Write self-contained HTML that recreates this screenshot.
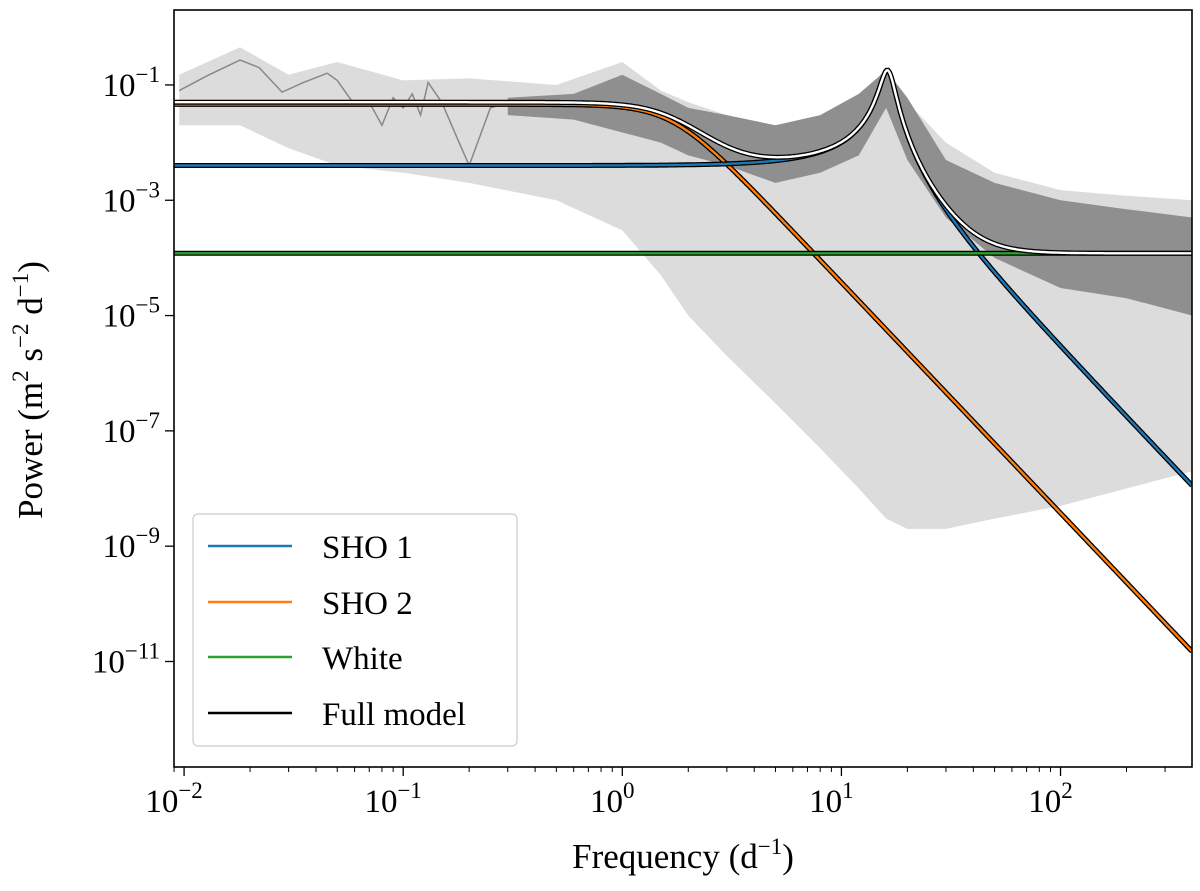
<!DOCTYPE html>
<html><head><meta charset="utf-8"><style>
body{margin:0;background:#fff}
svg text{font-family:"Liberation Serif",serif;fill:#000}
</style></head><body>
<svg id="c" width="1200" height="886" viewBox="0 0 1200 886" xmlns="http://www.w3.org/2000/svg"></svg>
<script>
// ---- data ----
const sho1 = {S0:0.004, f0:16.3, Q:6.7};
const sho2 = {S0:0.046, f0:1.69, Q:0.7071};
const whiteLevel = 1.2e-4;
const envFreq  = [0.0095,0.018,0.03,0.05,0.1,0.2,0.5,1,1.5,2,3,5,8,12,16,20,30,50,100,200,400];
const lightUpper=[0.15,0.45,0.15,0.25,0.12,0.13,0.1,0.25,0.08,0.05,0.03,0.015,0.02,0.05,0.2,0.05,0.01,0.003,0.0015,0.0012,0.001];
const lightLower=[0.02,0.02,0.008,0.004,3e-3,2e-3,1e-3,3e-4,5e-5,1e-5,2e-6,3e-7,5e-8,1e-8,3e-9,2e-9,2e-9,3e-9,5e-9,1e-8,2e-8];
const darkFreq = [0.3,0.6,1,1.5,2,3,5,8,12,16,20,30,50,100,200,400];
const darkUpper= [0.06,0.07,0.15,0.07,0.04,0.03,0.02,0.03,0.07,0.18,0.06,0.005,0.002,1e-3,7e-4,5e-4];
const darkLower= [0.03,0.025,0.015,0.01,0.006,0.004,0.002,0.003,0.006,0.04,0.005,5e-4,1e-4,3e-5,2e-5,1e-5];
const smoothFreq=[0.0095,0.013,0.018,0.022,0.028,0.035,0.045,0.05,0.06,0.07,0.08,0.09,0.1,0.11,0.12,0.13,0.15,0.18,0.2,0.25,0.3];
const smoothVal =[0.08,0.15,0.27,0.2,0.075,0.11,0.16,0.12,0.045,0.05,0.02,0.06,0.04,0.07,0.03,0.11,0.05,0.01,0.004,0.04,0.05];
const xTicks=[-2,-1,0,1,2], yTicks=[-1,-3,-5,-7,-9,-11];
// ---- axes ----
const L=174,R=1192,T=10,B=767;
const X0=-2.046,X1=2.6, Y0=0.3, Y1=-12.83;
const xs=f=>L+(Math.log10(f)-X0)/(X1-X0)*(R-L);
const ys=p=>T+(Y0-Math.log10(p))/(Y0-Y1)*(B-T);
const svg=document.getElementById('c');const NS='http://www.w3.org/2000/svg';
function el(t,a,p){const e=document.createElementNS(NS,t);for(const k in a)e.setAttribute(k,a[k]);(p||svg).appendChild(e);return e;}
const clip=el('clipPath',{id:'cl'});el('rect',{x:L,y:T,width:R-L,height:B-T},clip);
const g=el('g',{'clip-path':'url(#cl)'});


function band(fr,up,lo,fill,name){let d='';fr.forEach((f,i)=>d+=(i?'L':'M')+xs(f)+','+ys(up[i]));for(let i=fr.length-1;i>=0;i--)d+='L'+xs(fr[i])+','+ys(lo[i]);const p=el('path',{d:d+'Z',fill:fill},g);}
band(envFreq,lightUpper,lightLower,'#dcdcdc','periodogram-raw');
band(darkFreq,darkUpper,darkLower,'#8f8f8f','periodogram-binned');
let sd='';smoothFreq.forEach((f,i)=>sd+=(i?'L':'M')+xs(f)+','+ys(smoothVal[i]));
const sp=el('path',{d:sd,fill:'none',stroke:'#888','stroke-width':1.5},g);


function sho(p,f){return p.S0*Math.pow(p.f0,4)/(Math.pow(f*f-p.f0*p.f0,2)+p.f0*p.f0*f*f/(p.Q*p.Q));}
function curve(fn){let d='';for(let i=0;i<=800;i++){const lf=X0+(X1-X0)*i/800,f=Math.pow(10,lf);d+=(i?'L':'M')+xs(f).toFixed(1)+','+ys(fn(f)).toFixed(1);}return d;}
function model(fn,col,name){const d=curve(fn);el('path',{d,fill:'none',stroke:'#000','stroke-width':5},g);const p=el('path',{d,fill:'none',stroke:col,'stroke-width':2.4},g);}
model(f=>sho(sho2,f),'#ff7f0e','sho2-line');
model(f=>sho(sho1,f),'#1f77b4','sho1-line');
model(f=>whiteLevel,'#2ca02c','white-line');
model(f=>sho(sho1,f)+sho(sho2,f)+whiteLevel,'#ffffff','full-model-line');
const fr=el('rect',{x:L,y:T,width:R-L,height:B-T,fill:'none',stroke:'#000','stroke-width':1.6});

for(let d=-3;d<=2;d++)for(let m=2;m<=9;m++){const x=xs(m*Math.pow(10,d));if(x>L&&x<R)el('line',{x1:x,x2:x,y1:B,y2:B+5,stroke:'#000','stroke-width':1});}
xTicks.forEach(t=>{const x=xs(Math.pow(10,t));el('line',{x1:x,x2:x,y1:B,y2:B+9,stroke:'#000','stroke-width':1.3});
const tx=el('text',{x:x-10,y:B+45,'font-size':33,'text-anchor':'middle'});tx.textContent='10';
const s=el('tspan',{dy:-14,'font-size':23},tx);s.textContent=t<0?'\u2212'+(-t):t;
});
yTicks.forEach(t=>{const y=ys(Math.pow(10,t));el('line',{x1:L-9,x2:L,y1:y,y2:y,stroke:'#000','stroke-width':1.3});
const tx=el('text',{x:L-14,y:y+11,'font-size':33,'text-anchor':'end'});tx.textContent='10';
const s=el('tspan',{dy:-14,'font-size':23},tx);s.textContent=t<0?'\u2212'+(-t):t;
});
</script>
<svg width="1200" height="886" style="position:absolute;left:0;top:0">
<text x="683" y="868" font-size="35" text-anchor="middle">Frequency (d<tspan dy="-14" font-size="23">−1</tspan><tspan dy="14">)</tspan></text>
<text transform="translate(42,390) rotate(-90)" font-size="35" text-anchor="middle">Power (m<tspan dy="-14" font-size="23">2</tspan><tspan dy="14"> s</tspan><tspan dy="-14" font-size="23">−2</tspan><tspan dy="14"> d</tspan><tspan dy="-14" font-size="23">−1</tspan><tspan dy="14">)</tspan></text>
<g>
<rect x="193" y="514" width="324" height="232" rx="5" fill="#fff" fill-opacity="0.85" stroke="#ccc" stroke-width="1.2"/>
<line x1="208" x2="292" y1="546" y2="546" stroke="#1f77b4" stroke-width="2.4"/>
<text x="322" y="558" font-size="33">SHO 1</text>
<line x1="208" x2="292" y1="602" y2="602" stroke="#ff7f0e" stroke-width="2.4"/>
<text x="322" y="614" font-size="33">SHO 2</text>
<line x1="208" x2="292" y1="657" y2="657" stroke="#2ca02c" stroke-width="2.4"/>
<text x="322" y="669" font-size="33">White</text>
<line x1="208" x2="292" y1="713" y2="713" stroke="#000" stroke-width="2.4"/>
<text x="322" y="725" font-size="33">Full model</text>
</g>
</svg>
</body></html>
